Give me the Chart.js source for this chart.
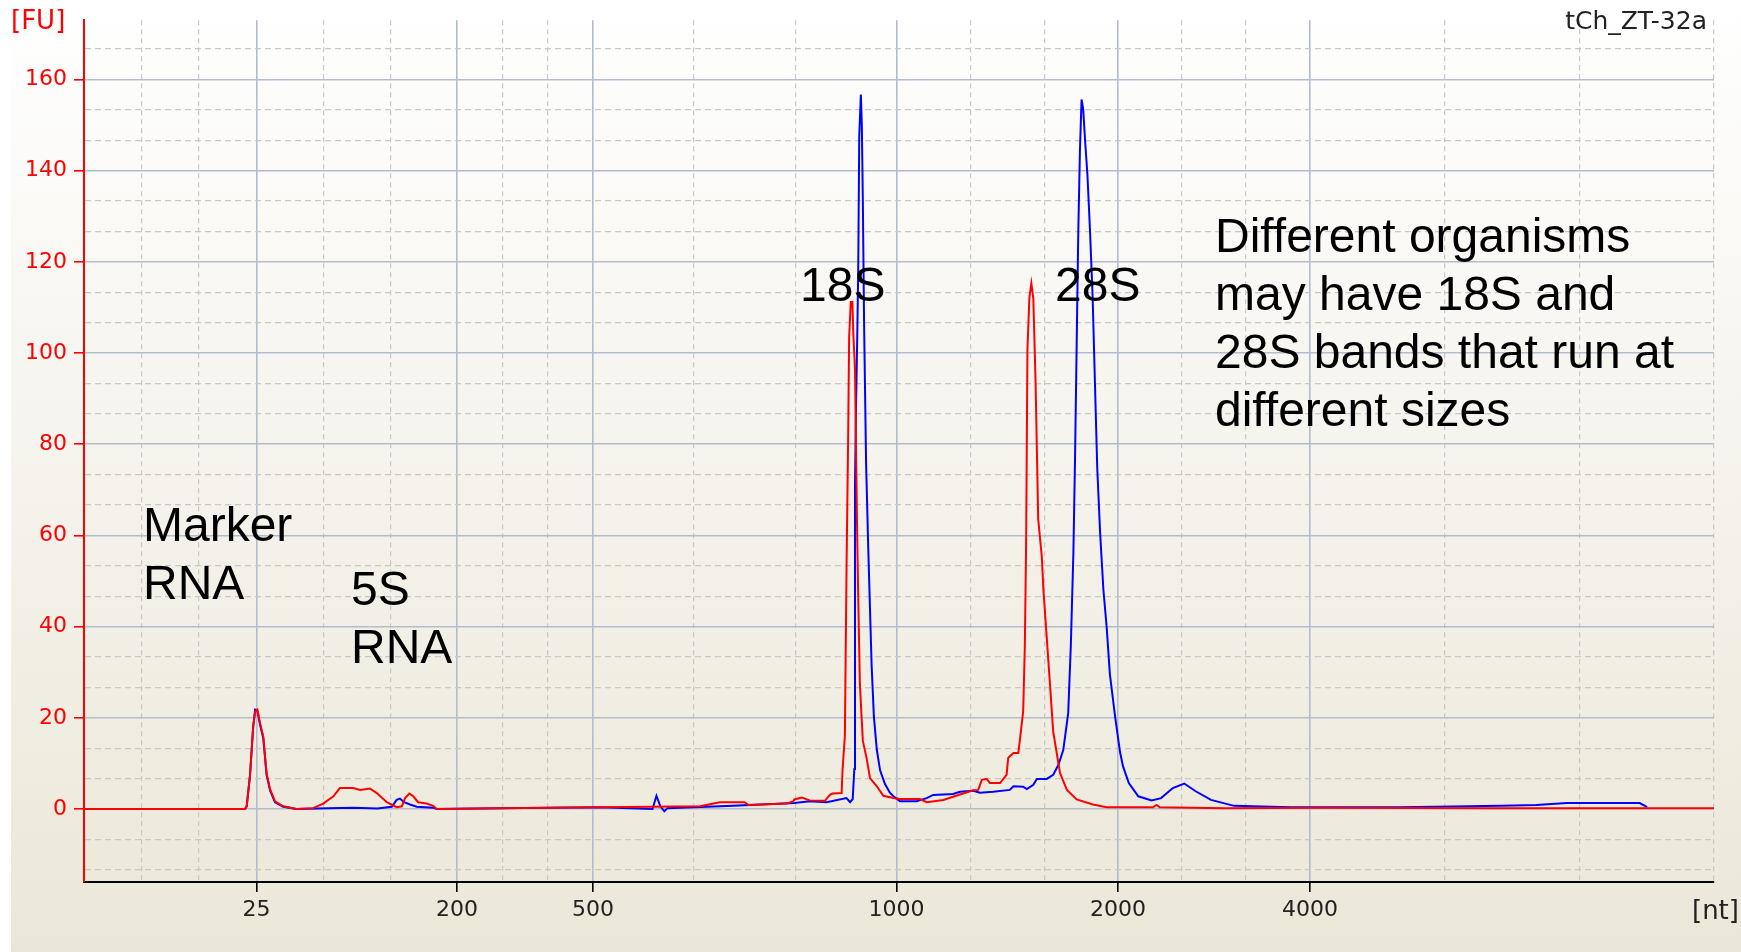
<!DOCTYPE html>
<html><head><meta charset="utf-8">
<script src="https://cdn.jsdelivr.net/npm/chart.js@4.4.1/dist/chart.umd.min.js"></script>
<style>html,body{margin:0;padding:0;background:#fff;overflow:hidden}</style>
</head><body>
<canvas id="c" width="1741" height="952"></canvas>
<script>
// ---- data (x = migration time, s; y = fluorescence, FU) ----
const xMin = 17, xMax = 67;
const xTickPos = [22.29, 28.44, 32.61, 41.92, 48.72, 54.61];
const xTickLabels = ['25', '200', '500', '1000', '2000', '4000'];
const yMin = -16, yMax = 173;
const yTickLabels = ['0', '20', '40', '60', '80', '100', '120', '140', '160'];

const redT = [17.00,21.94,21.99,22.09,22.19,22.25,22.32,22.40,22.50,22.60,22.71,22.86,23.11,23.52,24.03,24.34,24.65,24.85,25.26,25.47,25.77,25.98,26.29,26.59,26.75,26.85,26.98,27.10,27.25,27.51,27.71,27.82,29.76,32.83,35.90,36.50,37.26,37.38,38.56,38.76,38.79,39.02,39.26,39.73,39.88,39.96,40.24,40.27,40.34,40.39,40.44,40.47,40.52,40.57,40.60,40.65,40.71,40.75,40.80,40.89,41.01,41.11,41.32,41.52,41.83,42.03,42.64,42.85,43.36,43.87,44.28,44.43,44.54,44.69,44.79,45.10,45.30,45.35,45.51,45.66,45.71,45.81,45.86,45.90,45.94,46.00,46.06,46.12,46.19,46.27,46.38,46.43,46.53,46.63,46.73,46.89,46.94,47.15,47.45,47.95,48.37,49.79,49.90,50.00,52.00,55.00,60.00,64.00,67.00];
const redFU = [0,0,0.6,7.2,18.1,21.4,21.8,18.9,15.9,7.9,4.3,1.7,0.6,0,0.2,1.2,2.8,4.6,4.6,4.2,4.5,3.5,1.5,0.4,0.6,2.4,3.4,2.8,1.5,1.2,0.7,0,0.2,0.4,0.6,1.5,1.5,0.9,1.2,1.7,2.1,2.5,1.9,1.8,3.1,3.4,3.5,8.8,16,52.3,81.2,103.4,111.2,111.2,104,96.7,63.6,46,27.5,15,11,6.8,5.0,2.9,2.4,2.2,2.2,1.5,2.0,3.2,4.1,4.2,6.4,6.6,5.7,5.7,7.5,11.2,12.3,12.3,15.2,21.5,35.7,58.5,100.8,112.2,115.3,112,93.5,63.6,55.4,48.1,37.8,27.5,17,10,7.9,4.2,2.1,1.0,0.4,0.4,0.9,0.4,0.2,0.3,0.2,0.2,0.2];

const blueT = [17.00,21.94,21.99,22.09,22.19,22.25,22.32,22.40,22.50,22.60,22.71,22.86,23.11,23.52,24.50,25.26,26.00,26.44,26.59,26.69,26.82,27.00,27.21,27.71,27.82,29.76,32.83,34.44,34.56,34.68,34.80,34.90,36.91,38.79,39.26,39.78,40.39,40.50,40.58,40.63,40.65,40.68,40.72,40.75,40.78,40.83,40.86,40.89,40.93,40.99,41.06,41.11,41.16,41.23,41.32,41.42,41.57,41.72,41.83,42.03,42.54,42.85,43.05,43.66,43.87,44.28,44.48,44.89,45.40,45.51,45.81,45.92,46.12,46.23,46.53,46.73,46.89,47.04,47.19,47.27,47.35,47.40,47.45,47.50,47.55,47.60,47.65,47.71,47.78,47.86,47.94,48.01,48.08,48.17,48.27,48.37,48.47,48.63,48.78,48.87,49.05,49.34,49.75,50.04,50.40,50.75,51.10,51.57,52.28,52.86,54.02,57.37,60.49,61.55,62.49,64.72,64.95];
const blueFU = [0,0,0.6,7.2,18.1,21.8,21.4,18.5,15.5,7.5,4.0,1.5,0.5,0,0.2,0.3,0.1,0.5,2.0,2.3,1.5,1.0,0.5,0.3,0,0.2,0.4,0,2.9,0.6,-0.5,0.2,0.7,1.3,1.7,1.5,2.4,1.5,2.2,8.8,70.9,87.5,104,118.4,147.4,156.7,150,133.9,106,76,56.4,44,31.6,20.2,13,8.5,5.5,3.6,2.8,1.7,1.7,2.4,3.1,3.3,3.8,4.0,3.6,3.8,4.2,5.0,4.9,4.4,5.3,6.6,6.6,7.5,9.7,13,21,35.7,56.4,77,101.9,126.7,144.3,155.6,153.5,146.4,139.1,126.7,112.2,93.6,75,60.5,48.1,39.9,29.5,20.2,12.5,9.4,5.7,2.8,1.9,2.4,4.6,5.6,3.9,2.0,0.7,0.6,0.4,0.4,0.7,0.9,1.3,1.3,0.4];

// ---- tick construction: each labelled interval split in thirds ----
function buildXTicks() {
  const b = [xMin, ...xTickPos, xMax];
  const out = [];
  for (let i = 0; i < b.length - 1; i++) {
    const d = (b[i + 1] - b[i]) / 3;
    for (let k = 0; k < 3; k++) {
      const v = b[i] + k * d;
      const li = xTickPos.indexOf(b[i]);
      out.push({ value: v, lab: (k === 0 && li >= 0) ? xTickLabels[li] : '' });
    }
  }
  out.push({ value: xMax, lab: '' });
  return out;
}
function buildYTicks() {
  const out = [];
  for (let n = -2; n * 20 / 3 <= yMax; n++) {
    const v = n * 20 / 3;
    if (v < yMin) continue;
    const lab = (n % 3 === 0 && n >= 0) ? yTickLabels[n / 3] : '';
    out.push({ value: v, lab: lab || '' });
  }
  return out;
}

const SOLID = '#b3bccd', DASH = '#c8c8c4';
const isLab = c => c.tick && c.tick.lab;

const W = 1741, H = 952;
const deco = {
  id: 'deco',
  beforeDraw(chart) {
    const ctx = chart.ctx;
    ctx.save();
    ctx.fillStyle = '#ffffff';
    ctx.fillRect(0, 0, W, H);
    const g = ctx.createLinearGradient(0, 0, 0, H);
    g.addColorStop(0, '#ffffff');
    g.addColorStop(0.45, '#f6f4ee');
    g.addColorStop(1, '#ebe7d8');
    ctx.fillStyle = g;
    ctx.fillRect(11, 0, W - 11, H);
    ctx.restore();
  },
  afterDraw(chart) {
    const ctx = chart.ctx;
    ctx.save();
    ctx.textBaseline = 'alphabetic';
    ctx.font = '26px "DejaVu Sans"';
    ctx.fillStyle = '#ff0000';
    ctx.textAlign = 'left';
    ctx.fillText('[FU]', 11, 29);
    ctx.fillStyle = '#222';
    ctx.fillText('[nt]', 1692, 919);
    ctx.font = '25px "DejaVu Sans"';
    ctx.textAlign = 'right';
    ctx.fillText('tCh_ZT-32a', 1707, 29);

    ctx.fillStyle = '#000';
    ctx.textAlign = 'left';
    ctx.font = '48px "Liberation Sans", Arial, sans-serif';
    ctx.fillText('Marker', 143, 541);
    ctx.fillText('RNA', 143, 599);
    ctx.fillText('5S', 351, 605);
    ctx.fillText('RNA', 351, 663);
    ctx.fillText('18S', 800, 301);
    ctx.fillText('28S', 1055, 301);
    const lines = ['Different organisms', 'may have 18S and', '28S bands that run at', 'different sizes'];
    lines.forEach((s, i) => ctx.fillText(s, 1215, 252 + i * 58));
    ctx.restore();
  }
};

new Chart(document.getElementById('c'), {
  type: 'line',
  data: {
    datasets: [
      { label: 'red', data: redT.map((t, i) => ({ x: t, y: redFU[i] })), borderColor: '#ff0000', borderWidth: 2, pointRadius: 0, tension: 0, fill: false },
      { label: 'blue', data: blueT.map((t, i) => ({ x: t, y: blueFU[i] })), borderColor: '#0000ff', borderWidth: 2, pointRadius: 0, tension: 0, fill: false }
    ]
  },
  options: {
    responsive: false,
    animation: false,
    events: [],
    layout: { padding: { left: 0, top: 20, right: 27, bottom: 0 } },
    plugins: { legend: { display: false }, tooltip: { enabled: false }, title: { display: false } },
    scales: {
      x: {
        type: 'linear', min: xMin, max: xMax,
        afterBuildTicks: s => { s.ticks = buildXTicks(); },
        afterFit: s => { s.height = 70; },
        ticks: {
          autoSkip: false, maxRotation: 0, minRotation: 0, padding: 5, color: '#222',
          font: { family: 'DejaVu Sans', size: 22 },
          callback: (v, i, t) => t[i].lab
        },
        grid: {
          color: c => isLab(c) ? SOLID : DASH,
          lineWidth: c => isLab(c) ? 1.6 : 1.2,
          drawTicks: true, tickLength: 10, tickWidth: 1.6,
          tickColor: c => isLab(c) ? '#000' : 'rgba(0,0,0,0)'
        },
        border: { color: '#000', width: 2, dash: c => (c.tick && !c.tick.lab) ? [5, 4] : [] }
      },
      y: {
        type: 'linear', min: yMin, max: yMax,
        afterBuildTicks: s => { s.ticks = buildYTicks(); },
        afterFit: s => { s.width = 84; },
        ticks: {
          autoSkip: false, padding: 7, color: '#ff0000',
          font: { family: 'DejaVu Sans', size: 22 },
          callback: (v, i, t) => t[i].lab
        },
        grid: {
          color: c => isLab(c) ? SOLID : DASH,
          lineWidth: c => isLab(c) ? 1.6 : 1.2,
          drawTicks: true, tickLength: 10, tickWidth: 1.6,
          tickColor: c => isLab(c) ? '#ff0000' : 'rgba(0,0,0,0)'
        },
        border: { color: '#ff0000', width: 2, dash: c => (c.tick && !c.tick.lab) ? [6, 4] : [] }
      }
    }
  },
  plugins: [deco]
});
</script>
</body></html>
